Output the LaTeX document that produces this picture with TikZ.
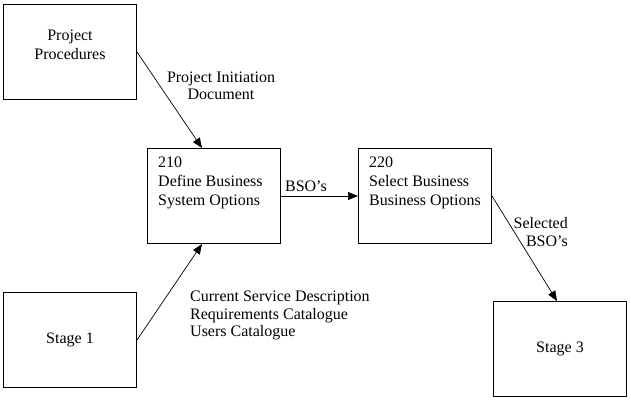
\documentclass[tikz,border=0pt]{standalone}
\usepackage{fontspec}
\setmainfont{Liberation Serif}
\usetikzlibrary{arrows.meta}
\begin{document}
\begin{tikzpicture}[x=1bp,y=-1bp,
  box/.style={draw, line width=1bp, minimum width=133bp, minimum height=95bp, inner sep=0pt,
    font=\fontsize{16bp}{19bp}\selectfont},
  lbl/.style={font=\fontsize{16bp}{19bp}\selectfont, inner sep=0pt},
  flow/.style={line width=0.7bp, -{Triangle[length=10bp,width=8bp]}}]
\useasboundingbox (0,0) rectangle (631,402);
\node[box] (pp) at (70,52) {};
\node[lbl, align=center] (ppt) at (70,45) {Project\\Procedures};
\node[box] (b210) at (214,196) {};
\node[lbl, align=left, anchor=north west] (t210) at (158,157) {210\\Define Business\\System Options};
\node[box] (b220) at (425,196) {};
\node[lbl, align=left, anchor=north west] (t220) at (369,157) {220\\Select Business\\Business Options};
\node[box] (s1) at (70,340) {Stage 1};
\node[box] (s3) at (560,349) {Stage 3};
\draw[flow] (pp.east) -- ([xshift=-12bp]b210.north);
\draw[flow] (s1.east) -- ([xshift=-12bp]b210.south);
\draw[flow] (b210.east) -- (b220.west);
\draw[flow] (b220.east) -- ([xshift=-3bp]s3.north);
\node[lbl, align=center, font=\fontsize{16bp}{17.5bp}\selectfont] (pid) at (221,86) {Project Initiation\\Document};
\node[lbl] (bso) at (306,186) {BSO’s};
\node[lbl, align=right, anchor=east, font=\fontsize{16bp}{17.5bp}\selectfont] (sel) at (568,232) {Selected\\BSO’s};
\node[lbl, align=left, anchor=north west, font=\fontsize{16bp}{17.5bp}\selectfont] (cur) at (190,291) {Current Service Description\\Requirements Catalogue\\Users Catalogue};
\end{tikzpicture}
\end{document}
